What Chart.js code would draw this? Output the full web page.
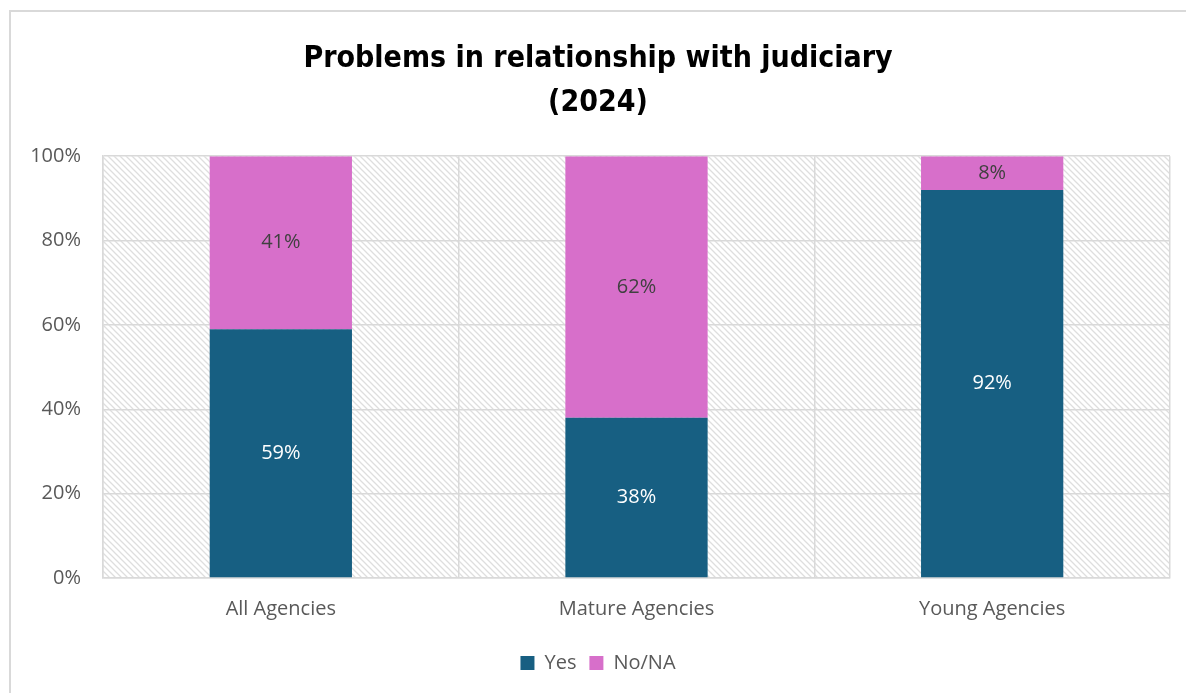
<!DOCTYPE html>
<html>
<head>
<meta charset="utf-8">
<script src="https://cdn.jsdelivr.net/npm/chart.js@4/dist/chart.umd.min.js"></script>
<style>
  html, body { margin: 0; padding: 0; background: #fff; overflow: hidden; }
  #wrap { position: relative; width: 1186px; height: 693px; }
  #frame { position: absolute; left: 9px; top: 10px; width: 1200px; height: 700px; border: 2px solid #d9d9d9; box-sizing: border-box; }
  #chart { position: absolute; left: 0; top: 0; }
</style>
</head>
<body>
<div id="wrap">
  <div id="frame"></div>
  <canvas id="chart" width="1186" height="693"></canvas>
</div>
<script>
// Kategorien und Anteile (in Prozent)
const categories = ['All Agencies', 'Mature Agencies', 'Young Agencies'];
const yesValues = [59, 38, 92];
const noValues = [41, 62, 8];
const yTicks = [0, 20, 40, 60, 80, 100];

const FONT = '"Open Sans", "Noto Sans", sans-serif';
const TEXT_GRAY = '#595959';
const GRID = '#d9d9d9';

// Schraffur für den Plotbereich (diagonale Linien)
function makeHatch() {
    const s = 6;
    const c = document.createElement('canvas');
    c.width = s; c.height = s;
    const g = c.getContext('2d');
    g.fillStyle = '#fff';
    g.fillRect(0, 0, s, s);
    g.strokeStyle = '#dedede';
    g.lineWidth = 1.3;
    g.beginPath();
    g.moveTo(-2, -2); g.lineTo(s + 2, s + 2);
    g.moveTo(-2, s - 2); g.lineTo(2, s + 2);
    g.moveTo(s - 2, -2); g.lineTo(s + 2, 2);
    g.stroke();
    return g.createPattern(c, 'repeat');
}

const hatchPlugin = {
    id: 'hatch',
    beforeDraw(chart) {
        const a = chart.chartArea;
        const ctx = chart.ctx;
        ctx.save();
        ctx.fillStyle = makeHatch();
        ctx.fillRect(a.left, a.top, a.right - a.left, a.bottom - a.top);
        ctx.restore();
    }
};

// Werte mittig in die Segmente schreiben
const valueLabels = {
    id: 'valueLabels',
    afterDatasetsDraw(chart) {
        const ctx = chart.ctx;
        ctx.save();
        ctx.font = '20px ' + FONT;
        ctx.textAlign = 'center';
        ctx.textBaseline = 'middle';
        chart.data.datasets.forEach((ds, i) => {
            const meta = chart.getDatasetMeta(i);
            ctx.fillStyle = i === 0 ? '#ffffff' : '#404040';
            meta.data.forEach((bar, j) => {
                const y = (bar.y + bar.base) / 2;
                ctx.fillText(ds.data[j] + '%', bar.x, y);
            });
        });
        ctx.restore();
    }
};

new Chart(document.getElementById('chart'), {
    type: 'bar',
    data: {
        labels: categories,
        datasets: [
            { label: 'Yes', data: yesValues, backgroundColor: '#175f82', barPercentage: 0.4, categoryPercentage: 1 },
            { label: 'No/NA', data: noValues, backgroundColor: '#d76fca', barPercentage: 0.4, categoryPercentage: 1 }
        ]
    },
    options: {
        responsive: false,
        animation: false,
        layout: { padding: { left: 26, right: 16, top: 37, bottom: 10 } },
        scales: {
            x: {
                stacked: true,
                grid: { color: GRID, lineWidth: 1.5, drawTicks: false },
                border: { color: GRID, width: 1.5 },
                ticks: { color: TEXT_GRAY, font: { family: FONT, size: 20 }, padding: 19 }
            },
            y: {
                stacked: true,
                min: 0, max: 100,
                afterBuildTicks(scale) { scale.ticks = yTicks.map(v => ({ value: v })); },
                afterFit(scale) { scale.width = 77; },
                grid: { color: GRID, lineWidth: 1.5, drawTicks: false },
                border: { color: GRID, width: 1.5 },
                ticks: { color: TEXT_GRAY, font: { family: FONT, size: 20 }, padding: 22, callback: v => v + '%' }
            }
        },
        plugins: {
            title: {
                display: true,
                text: ['Problems in relationship with judiciary', '(2024)'],
                color: '#000',
                font: { family: '"DejaVu Sans Condensed", "Open Sans", sans-serif', size: 30, weight: 'bold', lineHeight: 1.47 },
                padding: { top: 0, bottom: 31 }
            },
            legend: {
                position: 'bottom',
                labels: { color: TEXT_GRAY, font: { family: FONT, size: 20 }, boxWidth: 14, boxHeight: 14, padding: 13 }
            },
            tooltip: { enabled: false }
        }
    },
    plugins: [hatchPlugin, valueLabels]
});
</script>
</body>
</html>
